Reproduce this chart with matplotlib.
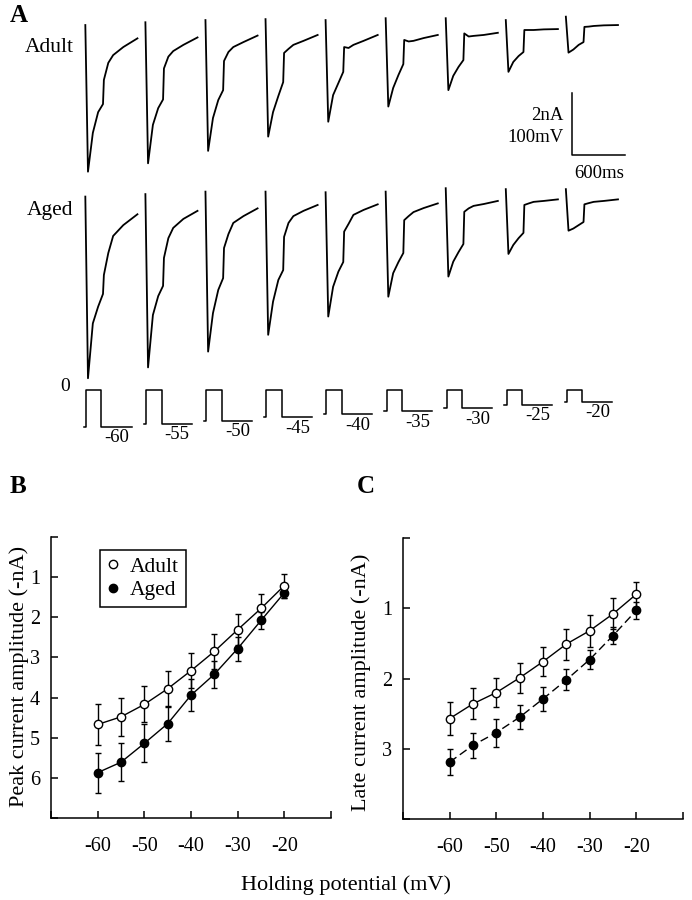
import matplotlib
matplotlib.use("Agg")
import matplotlib.pyplot as plt
from matplotlib.lines import Line2D

plt.rcParams["font.family"] = ["Liberation Serif", "DejaVu Serif"]

W_PX, H_PX = 692, 900

# holding potentials (mV), one sweep each
HOLDING_MV = [-60, -55, -50, -45, -40, -35, -30, -25, -20]

# B: peak current amplitude (-nA), mean +/- error
PEAK_ADULT = [4.67, 4.48, 4.17, 3.78, 3.33, 2.85, 2.31, 1.78, 1.21]
PEAK_ADULT_ERR = [0.50, 0.48, 0.45, 0.44, 0.43, 0.44, 0.38, 0.36, 0.30]
PEAK_AGED = [5.87, 5.61, 5.14, 4.65, 3.94, 3.42, 2.78, 2.08, 1.39]
PEAK_AGED_ERR = [0.50, 0.48, 0.47, 0.42, 0.40, 0.33, 0.30, 0.22, 0.13]

# C: late current amplitude (-nA)
LATE_ADULT = [2.57, 2.36, 2.20, 1.99, 1.76, 1.51, 1.32, 1.08, 0.80]
LATE_ADULT_ERR = [0.24, 0.22, 0.21, 0.21, 0.21, 0.22, 0.23, 0.22, 0.18]
LATE_AGED = [3.19, 2.95, 2.77, 2.55, 2.29, 2.02, 1.73, 1.39, 1.03]
LATE_AGED_ERR = [0.18, 0.18, 0.20, 0.17, 0.17, 0.15, 0.13, 0.12, 0.12]

# A: sampled current traces (nA), times in ms from sweep start
SWEEP_MS = 680
TRACE_T_MS = [15, 45, 100, 160, 215, 225, 275, 330, 445, 605]
ADULT_TRACES = [
    [0.16, -4.57, -3.32, -2.65, -2.39, -1.61, -1.06, -0.81, -0.55, -0.27],
    [0.25, -4.30, -3.06, -2.52, -2.24, -1.24, -0.86, -0.68, -0.48, -0.24],
    [0.32, -3.90, -2.84, -2.26, -1.94, -1.00, -0.71, -0.55, -0.39, -0.18],
    [0.35, -3.44, -2.65, -2.13, -1.68, -0.74, -0.61, -0.48, -0.35, -0.16],
    [0.32, -2.96, -2.10, -1.71, -1.35, -0.55, -0.58, -0.48, -0.35, -0.16],
    [0.38, -2.47, -1.87, -1.45, -1.10, -0.32, -0.37, -0.35, -0.26, -0.16],
    [0.38, -1.94, -1.48, -1.19, -0.97, -0.11, -0.21, -0.19, -0.16, -0.09],
    [0.32, -1.35, -1.03, -0.84, -0.71, 0.00, 0.00, 0.00, 0.02, 0.03],
    [0.43, -0.73, -0.63, -0.48, -0.39, 0.10, 0.11, 0.13, 0.15, 0.16],
]
AGED_TRACES = [
    [0.11, -5.75, -3.98, -3.44, -3.03, -2.42, -1.71, -1.16, -0.81, -0.46],
    [0.19, -5.40, -3.71, -3.10, -2.77, -1.87, -1.23, -0.90, -0.61, -0.35],
    [0.27, -4.89, -3.65, -2.90, -2.52, -1.55, -1.10, -0.74, -0.52, -0.27],
    [0.27, -4.35, -3.28, -2.58, -2.26, -1.19, -0.74, -0.52, -0.35, -0.16],
    [0.25, -3.76, -2.80, -2.31, -2.00, -1.02, -0.77, -0.48, -0.32, -0.14],
    [0.27, -3.12, -2.36, -2.00, -1.71, -0.65, -0.52, -0.39, -0.26, -0.11],
    [0.38, -2.47, -1.99, -1.68, -1.42, -0.38, -0.27, -0.19, -0.13, -0.03],
    [0.35, -1.74, -1.45, -1.23, -1.06, -0.16, -0.11, -0.06, -0.03, 0.02],
    [0.35, -0.99, -0.92, -0.81, -0.71, -0.14, -0.10, -0.06, -0.03, 0.02],
]
# voltage protocol: hold, step to 0 mV, back to hold
STIM_T_MS = [0, 25, 25, 198, 198, 538]

# layout of panel A (figure pixels -> ms / nA)
MS_PER_PX = 600 / 53
PX_PER_NA = 31
X0_PX = 84
Y0_PX = 30
AGED_OFFSET = -170 / PX_PER_NA
STIM_OFFSET = -(389.5 - Y0_PX) / PX_PER_NA
NA_PER_MV = 2 / 100

FS_TICK = 14.5
FS_LABEL = 16


def px_rect(left, top, right, bottom):
    return [left / W_PX, 1 - bottom / H_PX, (right - left) / W_PX, (bottom - top) / H_PX]


def panel_a(fig):
    ax = fig.add_axes(px_rect(0, 0, W_PX, 460))
    ax.set_xlim(-X0_PX * MS_PER_PX, (W_PX - X0_PX) * MS_PER_PX)
    ax.set_ylim((Y0_PX - 460) / PX_PER_NA, Y0_PX / PX_PER_NA)
    ax.axis("off")

    for i, hold in enumerate(HOLDING_MV):
        t0 = i * SWEEP_MS
        tt = [t0 + t for t in TRACE_T_MS]
        ax.plot(tt, ADULT_TRACES[i], color="black", lw=1.3, solid_joinstyle="round")
        ax.plot(tt, [v + AGED_OFFSET for v in AGED_TRACES[i]], color="black", lw=1.3,
                solid_joinstyle="round")

        levels = [hold, hold, 0, 0, hold, hold]
        ax.plot([t0 + t for t in STIM_T_MS],
                [STIM_OFFSET + v * NA_PER_MV for v in levels], color="black", lw=1.1)
        ax.text(t0 + 375, STIM_OFFSET + hold * NA_PER_MV - 11 / PX_PER_NA, str(hold),
                ha="center", va="center", fontsize=13.5)

    ax.text((65 - X0_PX) * MS_PER_PX, STIM_OFFSET + 3 / PX_PER_NA, "0",
            ha="center", va="center", fontsize=14)
    ax.text((49 - X0_PX) * MS_PER_PX, (Y0_PX - 47) / PX_PER_NA, "Adult",
            ha="center", va="center", fontsize=15.5)
    ax.text((50 - X0_PX) * MS_PER_PX, (Y0_PX - 210) / PX_PER_NA, "Aged",
            ha="center", va="center", fontsize=15.5)

    # scale bar 2 nA / 100 mV, 600 ms
    sb_t = (572.3 - X0_PX) * MS_PER_PX
    sb_y = (Y0_PX - 155) / PX_PER_NA
    ax.plot([sb_t, sb_t, sb_t + 600], [sb_y + 2, sb_y, sb_y], color="black", lw=1.1)
    ax.text(sb_t - 9 * MS_PER_PX, sb_y + 2 - 22 / PX_PER_NA, "2nA",
            ha="right", va="center", fontsize=13.5)
    ax.text(sb_t - 9 * MS_PER_PX, sb_y + 2 - 44 / PX_PER_NA, "100mV",
            ha="right", va="center", fontsize=13.5)
    ax.text(sb_t + 300, sb_y - 18 / PX_PER_NA, "600ms",
            ha="center", va="center", fontsize=13.5)


def iv_panel(ax, adult, adult_err, aged, aged_err, ymax, aged_ls):
    ax.errorbar(HOLDING_MV, adult, yerr=adult_err, color="black", lw=1, ls="-",
                marker="o", ms=6, mfc="white", mec="black", mew=1,
                capsize=2.5, elinewidth=1, capthick=1, zorder=3)
    ax.errorbar(HOLDING_MV, aged, yerr=aged_err, color="black", lw=1, ls=aged_ls,
                dashes=(6, 3) if aged_ls == "--" else (None, None),
                marker="o", ms=6, mfc="black", mec="black", mew=1,
                capsize=2.5, elinewidth=1, capthick=1, zorder=2)
    ax.set_xlim(-70, -10)
    ax.set_ylim(ymax, 0)
    ax.set_xticks([-70, -60, -50, -40, -30, -20, -10])
    ax.set_xticklabels(["", "-60", "-50", "-40", "-30", "-20", ""])
    ax.set_yticks(range(ymax + 1))
    ax.set_yticklabels([""] + [str(k) for k in range(1, ymax)] + [""])
    for side in ("top", "right"):
        ax.spines[side].set_visible(False)
    for side in ("left", "bottom"):
        ax.spines[side].set_linewidth(1.1)
    ax.tick_params(direction="in", length=5, width=1.1, labelsize=FS_TICK, pad=8)
    ax.tick_params(axis="x", pad=14)


def main():
    fig = plt.figure(figsize=(W_PX / 100, H_PX / 100), dpi=100)
    panel_a(fig)

    ax_b = fig.add_axes(px_rect(51, 537, 331, 818))
    iv_panel(ax_b, PEAK_ADULT, PEAK_ADULT_ERR, PEAK_AGED, PEAK_AGED_ERR, 7, "-")
    handles = [
        Line2D([], [], ls="none", marker="o", ms=6, mfc="white", mec="black", color="black"),
        Line2D([], [], ls="none", marker="o", ms=6, mfc="black", mec="black", color="black"),
    ]
    leg = ax_b.legend(handles, ["Adult", "Aged"], loc="upper left",
                      bbox_to_anchor=(0.175, 0.952), borderaxespad=0, fancybox=False,
                      edgecolor="black", fontsize=15.5, handlelength=0.6,
                      handletextpad=0.5, borderpad=0.3, labelspacing=0.15, framealpha=1)
    leg.get_frame().set_linewidth(1.1)

    ax_c = fig.add_axes(px_rect(403, 538, 683, 819))
    iv_panel(ax_c, LATE_ADULT, LATE_ADULT_ERR, LATE_AGED, LATE_AGED_ERR, 4, "--")

    fig.text(19 / W_PX, 1 - 676 / H_PX, "Peak current amplitude (-nA)", rotation=90,
             ha="center", va="center", fontsize=FS_LABEL)
    fig.text(361 / W_PX, 1 - 682 / H_PX, "Late current amplitude (-nA)", rotation=90,
             ha="center", va="center", fontsize=FS_LABEL)
    fig.text(346 / W_PX, 1 - 885 / H_PX, "Holding potential (mV)",
             ha="center", va="center", fontsize=FS_LABEL)

    fig.text(19 / W_PX, 1 - 15 / H_PX, "A", ha="center", va="center",
             fontsize=18, weight="bold")
    fig.text(18.5 / W_PX, 1 - 486.5 / H_PX, "B", ha="center", va="center",
             fontsize=18, weight="bold")
    fig.text(366 / W_PX, 1 - 486.5 / H_PX, "C", ha="center", va="center",
             fontsize=18, weight="bold")

    fig.savefig("out.png", dpi=100)
    plt.close(fig)


if __name__ == "__main__":
    main()
